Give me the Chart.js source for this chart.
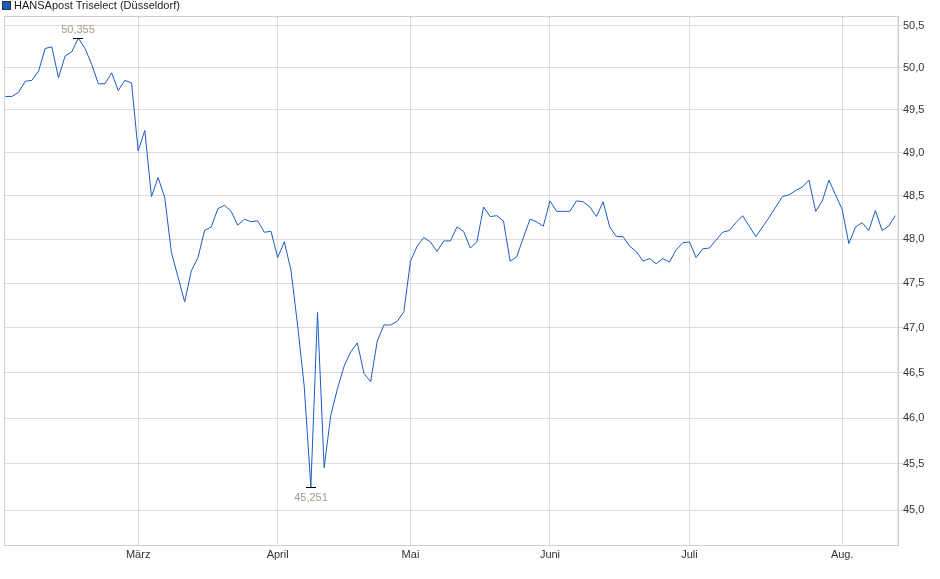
<!DOCTYPE html>
<html>
<head>
<meta charset="utf-8">
<script src="https://cdn.jsdelivr.net/npm/chart.js@4/dist/chart.umd.min.js"></script>
<style>
  html, body { margin: 0; padding: 0; background: #fff; }
  #wrap { width: 940px; height: 579px; }
</style>
</head>
<body>
<div id="wrap"><canvas id="chart"></canvas></div>
<script>
const seriesName = 'HANSApost Triselect (Düsseldorf)'

// daily closes, one per trading day from early Feb to mid Aug
const closes = [
	49.66, 49.66, 49.71, 49.84, 49.85, 49.96, 50.23, 50.25, 49.88, 50.14,
	50.19, 50.355, 50.23, 50.04, 49.81, 49.81, 49.94, 49.73, 49.85, 49.82,
	49.02, 49.26, 48.49, 48.71, 48.48, 47.85, 47.57, 47.29, 47.64, 47.79,
	48.10, 48.14, 48.35, 48.39, 48.32, 48.16, 48.23, 48.20, 48.21, 48.08,
	48.09, 47.79, 47.97, 47.65, 47.03, 46.35, 45.251, 47.17, 45.46, 46.03,
	46.32, 46.57, 46.73, 46.83, 46.49, 46.40, 46.85, 47.03, 47.03, 47.07,
	47.18, 47.75, 47.92, 48.02, 47.97, 47.86, 47.98, 47.98, 48.14, 48.09,
	47.90, 47.97, 48.37, 48.26, 48.27, 48.21, 47.75, 47.80, 48.02, 48.23,
	48.20, 48.15, 48.44, 48.32, 48.32, 48.32, 48.44, 48.43, 48.37, 48.26,
	48.43, 48.14, 48.03, 48.03, 47.92, 47.86, 47.75, 47.78, 47.72, 47.78,
	47.74, 47.88, 47.96, 47.97, 47.79, 47.89, 47.90, 47.99, 48.08, 48.10,
	48.19, 48.27, 48.15, 48.03, 48.14, 48.25, 48.37, 48.49, 48.51, 48.56,
	48.60, 48.68, 48.32, 48.44, 48.68, 48.51, 48.34, 47.95, 48.14, 48.19,
	48.10, 48.33, 48.10, 48.15, 48.27,
]

// first trading day of each month (index into closes)
const monthStarts = [20, 41, 61, 82, 103, 126]
const monthLabels = ['März', 'April', 'Mai', 'Juni', 'Juli', 'Aug.']

const yTicks = [45.0, 45.5, 46.0, 46.5, 47.0, 47.5, 48.0, 48.5, 49.0, 49.5, 50.0, 50.5]

const FONT = '"Liberation Sans", Arial, sans-serif'
const GRID = '#dcdcdc'
const LINE = '#1a5cc4'

const fmt = (v, d) => v.toFixed(d).replace('.', ',')

// frame + legend drawn by hand so they sit where the original puts them
const framePlugin = {
	id: 'frame',
	afterDraw(chart) {
		const { ctx, chartArea: a } = chart
		ctx.save()
		ctx.strokeStyle = '#cfcfcf'
		ctx.lineWidth = 1
		ctx.strokeRect(a.left - 0.5, a.top + 0.5, a.right - a.left + 0.5, a.bottom - a.top)

		const ds = chart.data.datasets[0]
		ctx.fillStyle = LINE
		ctx.fillRect(3, 2, 7, 7)
		ctx.strokeStyle = '#333'
		ctx.strokeRect(2.5, 1.5, 8, 8)
		ctx.fillStyle = '#222'
		ctx.font = '11px ' + FONT
		ctx.textBaseline = 'middle'
		ctx.textAlign = 'left'
		ctx.fillText(ds.label, 14, 6)
		ctx.restore()
	},
}

// high / low markers with their values
const extremesPlugin = {
	id: 'extremes',
	afterDatasetsDraw(chart) {
		const { ctx, scales } = chart
		const hi = closes.indexOf(Math.max(...closes))
		const lo = closes.indexOf(Math.min(...closes))
		ctx.save()
		ctx.font = '11px ' + FONT
		ctx.textAlign = 'center'
		ctx.textBaseline = 'middle'
		;[[hi, -9], [lo, 10]].forEach(([i, dy]) => {
			const px = Math.round(scales.x.getPixelForValue(i))
			const py = Math.round(scales.y.getPixelForValue(closes[i])) + 0.5
			ctx.strokeStyle = '#000'
			ctx.lineWidth = 1
			ctx.beginPath()
			ctx.moveTo(px - 5, py)
			ctx.lineTo(px + 5, py)
			ctx.stroke()
			ctx.fillStyle = '#a49a8e'
			ctx.fillText(fmt(closes[i], 3), px, py + dy)
		})
		ctx.restore()
	},
}

const ctx = document.getElementById('chart').getContext('2d')

new Chart(ctx, {
	type: 'line',
	data: {
		datasets: [
			{
				label: seriesName,
				data: closes.map((v, i) => ({ x: i, y: v })),
				borderColor: LINE,
				backgroundColor: LINE,
				borderWidth: 1,
				pointRadius: 0,
				tension: 0,
			},
		],
	},
	options: {
		responsive: true,
		maintainAspectRatio: false,
		animation: false,
		layout: { padding: { top: 16, left: 5, right: 0, bottom: 0 } },
		plugins: {
			legend: { display: false },
			tooltip: { enabled: false },
		},
		scales: {
			x: {
				type: 'linear',
				min: -0.05,
				max: 134.4,
				afterBuildTicks: (scale) => {
					scale.ticks = monthStarts.map((v) => ({ value: v }))
				},
				afterFit: (scale) => {
					scale.height = 34
				},
				ticks: {
					autoSkip: false,
					maxRotation: 0,
					padding: 3,
					color: '#333',
					font: { family: FONT, size: 11 },
					callback: (v) => monthLabels[monthStarts.indexOf(v)],
				},
				grid: { color: GRID, drawTicks: false },
				border: { color: '#cfcfcf' },
			},
			y: {
				type: 'logarithmic',
				position: 'right',
				min: 44.63,
				max: 50.62,
				afterBuildTicks: (scale) => {
					scale.ticks = yTicks.map((v) => ({ value: v }))
				},
				afterFit: (scale) => {
					scale.width = 42
				},
				ticks: {
					padding: 0,
					color: '#333',
					font: { family: FONT, size: 11 },
					callback: (v) => fmt(v, 1),
				},
				grid: { color: GRID, tickLength: 5 },
				border: { color: '#cfcfcf' },
			},
		},
	},
	plugins: [framePlugin, extremesPlugin],
})
</script>
</body>
</html>
